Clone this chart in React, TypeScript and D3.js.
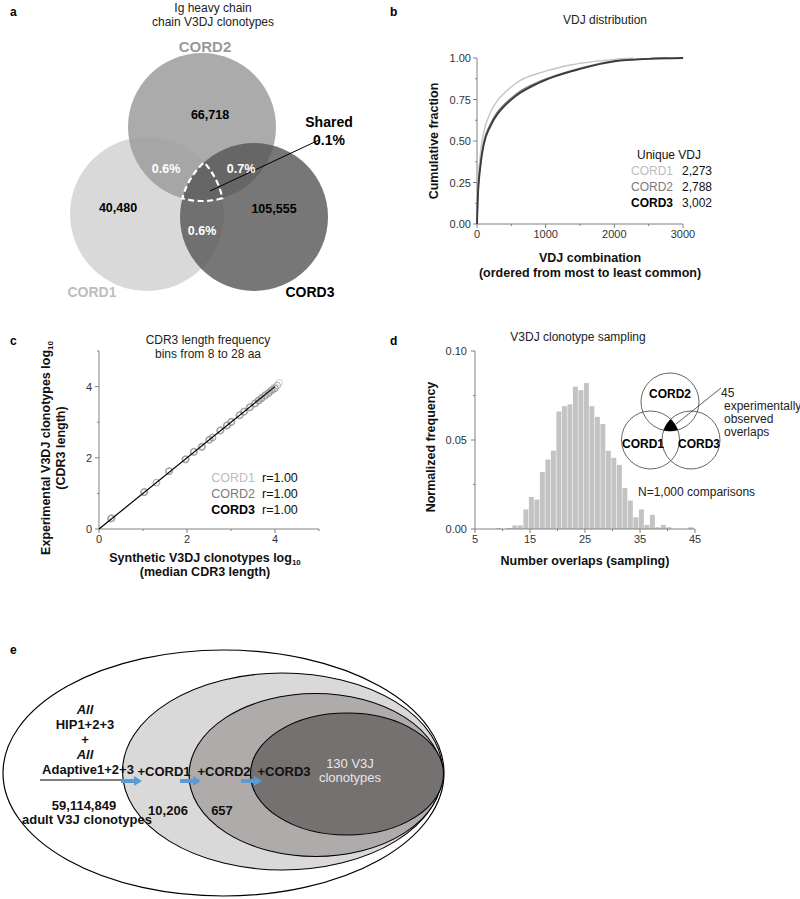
import React from 'react';
import * as d3 from 'd3';

const FONT = "Arial, 'Liberation Sans', Helvetica, sans-serif";

// ---------- Panel a data ----------
const vennNames = ['CORD1', 'CORD2', 'CORD3'];
const vennUnique = ['40,480', '66,718', '105,555'];
const vennPairLabels = ['0.6%', '0.7%', '0.6%']; // 1∩2, 2∩3, 1∩3
const vennShared = ['Shared', '0.1%'];

// ---------- Panel b data ----------
const cord1Cum: [number, number][] = [[0, 0], [10, 0.2], [49, 0.42], [97, 0.55], [194, 0.67], [291, 0.74], [388, 0.785], [510, 0.83], [631, 0.865], [874, 0.905], [1010, 0.922], [1359, 0.958], [1505, 0.968], [2005, 0.992], [2273, 1.0]];
const cord2Cum: [number, number][] = [[0, 0], [10, 0.15], [49, 0.36], [97, 0.49], [194, 0.6], [291, 0.67], [388, 0.717], [510, 0.762], [631, 0.8], [874, 0.852], [1010, 0.875], [1359, 0.922], [1505, 0.938], [2005, 0.983], [2500, 0.996], [2788, 1.0]];
const cord3Cum: [number, number][] = [[0, 0], [10, 0.14], [49, 0.345], [97, 0.475], [194, 0.588], [291, 0.658], [388, 0.705], [510, 0.752], [631, 0.79], [874, 0.845], [1010, 0.87], [1359, 0.918], [1505, 0.935], [2005, 0.98], [2500, 0.995], [3002, 1.0]];
const uniqueVDJ = ['2,273', '2,788', '3,002'];
const bXTicks = [0, 1000, 2000, 3000];
const bYTicks = [0, 0.25, 0.5, 0.75, 1.0];

// ---------- Panel c data ----------
const cord1Cdr3: [number, number][] = [[0.3, 0.31], [1.04, 1.05], [1.31, 1.31], [1.6, 1.63], [1.98, 1.97], [2.17, 2.18], [2.35, 2.33], [2.58, 2.57], [2.77, 2.78], [2.92, 2.93], [3.02, 3.03], [3.21, 3.21], [3.31, 3.31], [3.45, 3.44], [3.56, 3.55], [3.64, 3.63], [3.72, 3.71], [3.8, 3.79], [3.9, 3.88], [3.98, 3.97], [4.1, 4.11]];
const cord2Cdr3: [number, number][] = [[0.28, 0.3], [1.03, 1.04], [1.3, 1.3], [1.59, 1.62], [1.97, 1.96], [2.16, 2.17], [2.34, 2.31], [2.52, 2.52], [2.76, 2.77], [2.91, 2.91], [3.01, 3.01], [3.2, 3.2], [3.3, 3.3], [3.43, 3.42], [3.55, 3.53], [3.63, 3.61], [3.7, 3.68], [3.78, 3.76], [3.87, 3.84], [3.95, 3.92], [4.05, 4.03]];
const cord3Cdr3: [number, number][] = [[0.27, 0.29], [1.02, 1.03], [1.59, 1.62], [1.96, 1.95], [2.15, 2.16], [2.33, 2.3], [2.5, 2.5], [2.58, 2.57], [2.75, 2.76], [2.9, 2.9], [3.0, 3.0], [3.19, 3.19], [3.29, 3.29], [3.42, 3.41], [3.54, 3.52], [3.62, 3.6], [3.69, 3.67], [3.77, 3.74], [3.85, 3.81], [3.92, 3.89], [4.0, 3.95]];
const corrLabels = ['r=1.00', 'r=1.00', 'r=1.00'];
const cTicks = [0, 2, 4];

// ---------- Panel d data ----------
const overlapBins = [9, 10, 11, 12, 13, 14, 15, 16, 17, 18, 19, 20, 21, 22, 23, 24, 25, 26, 27, 28, 29, 30, 31, 32, 33, 34, 35, 36, 37, 38, 39, 40, 41, 42, 43, 44];
const overlapFreq = [0.0006, 0, 0.0006, 0.002, 0.002, 0.011, 0.018, 0.0165, 0.032, 0.039, 0.044, 0.066, 0.069, 0.070, 0.080, 0.078, 0.082, 0.069, 0.063, 0.059, 0.044, 0.040, 0.036, 0.023, 0.016, 0.0066, 0.011, 0.0023, 0.008, 0.001, 0.0023, 0.001, 0, 0, 0, 0.001];
const dXTicks = [5, 15, 25, 35, 45];
const dYTicks = [0, 0.05, 0.1];
const observedLabel = ['45', 'experimentally', 'observed', 'overlaps'];

// ---------- Panel e data ----------
const adultLines = ['All', 'HIP1+2+3', '+', 'All', 'Adaptive1+2+3'];
const adultCount = ['59,114,849', 'adult V3J clonotypes'];
const stepLabels = ['+CORD1', '+CORD2', '+CORD3'];
const stepCounts = ['10,206', '657'];
const finalLabel = ['130 V3J', 'clonotypes'];

type Circle = { x: number; y: number; r: number };

function intersections(a: Circle, b: Circle): [number, number][] {
  const dx = b.x - a.x, dy = b.y - a.y;
  const d = Math.hypot(dx, dy);
  const l = (a.r * a.r - b.r * b.r + d * d) / (2 * d);
  const h = Math.sqrt(Math.max(0, a.r * a.r - l * l));
  const ux = dx / d, uy = dy / d;
  const bx = a.x + l * ux, by = a.y + l * uy;
  return [[bx - h * uy, by + h * ux], [bx + h * uy, by - h * ux]];
}

function inside(p: [number, number], c: Circle) {
  return Math.hypot(p[0] - c.x, p[1] - c.y) <= c.r + 0.5;
}

function tripleRegion(cs: Circle[]): string {
  const pick = (i: number, j: number, k: number) => intersections(cs[i], cs[j]).find(p => inside(p, cs[k]))!;
  const p01 = pick(0, 1, 2), p12 = pick(1, 2, 0), p02 = pick(0, 2, 1);
  const pts: [number, number][] = [];
  const arc = (c: Circle, s: [number, number], e: [number, number]) => {
    const a0 = Math.atan2(s[1] - c.y, s[0] - c.x);
    const a1 = Math.atan2(e[1] - c.y, e[0] - c.x);
    let dlt = a1 - a0;
    while (dlt > Math.PI) dlt -= 2 * Math.PI;
    while (dlt < -Math.PI) dlt += 2 * Math.PI;
    for (let t = 0; t <= 24; t++) {
      const a = a0 + (dlt * t) / 24;
      pts.push([c.x + c.r * Math.cos(a), c.y + c.r * Math.sin(a)]);
    }
  };
  arc(cs[1], p01, p12);
  arc(cs[2], p12, p02);
  arc(cs[0], p02, p01);
  return (d3.line()(pts) || '') + 'Z';
}

const AX = '#808080';

export default function App() {
  // ---- panel a geometry
  const aC: Circle[] = [{ x: 147, y: 214, r: 77 }, { x: 202, y: 127, r: 74 }, { x: 254, y: 217, r: 74 }];
  const aRegion = tripleRegion(aC);

  // ---- panel b
  const bX = d3.scaleLinear().domain([0, 3000]).range([477, 683]);
  const bY = d3.scaleLinear().domain([0, 1]).range([224, 58]);
  const bLine = d3.line<[number, number]>().x(d => bX(d[0])).y(d => bY(d[1])).curve(d3.curveMonotoneX);

  // ---- panel c
  const cX = d3.scaleLinear().domain([0, 5]).range([99, 319]);
  const cY = d3.scaleLinear().domain([0, 5]).range([529, 351]);

  // ---- panel d
  const dX = d3.scaleLinear().domain([5, 45]).range([475, 695]);
  const dY = d3.scaleLinear().domain([0, 0.1]).range([529, 351]);
  const dC: Circle[] = [{ x: 650.5, y: 440, r: 29 }, { x: 670, y: 402, r: 29 }, { x: 691, y: 440, r: 29 }];
  const dRegion = tripleRegion(dC);

  const arrow = (x0: number, x1: number, y: number, key: string) => (
    <g key={key} fill="#5b9bd5">
      <rect x={x0} y={y - 2} width={x1 - x0 - 7} height={4} />
      <path d={`M${x1 - 8},${y - 5}L${x1},${y}L${x1 - 8},${y + 5}Z`} />
    </g>
  );

  return (
    <svg width={800} height={899} style={{ position: 'absolute', left: 0, top: 0, background: '#fff' }} fontFamily={FONT}>
      <rect width={800} height={899} fill="#fff" />
      {/* panel letters */}
      <g fontWeight="bold" fontSize={12} fill="#000">
        <text x={10} y={16}>a</text>
        <text x={390} y={16}>b</text>
        <text x={10} y={345}>c</text>
        <text x={390} y={345}>d</text>
        <text x={10} y={654}>e</text>
      </g>

      {/* ================= Panel a ================= */}
      <g>
        <text x={213} y={12} textAnchor="middle" fontSize={12} fill="#222">Ig heavy chain</text>
        <text x={213} y={26} textAnchor="middle" fontSize={12} fill="#222">chain V3DJ clonotypes</text>
        <circle cx={aC[0].x} cy={aC[0].y} r={aC[0].r} fill="#d9d9d9" />
        <circle cx={aC[1].x} cy={aC[1].y} r={aC[1].r} fill="#9c9c9c" fillOpacity={0.85} />
        <circle cx={aC[2].x} cy={aC[2].y} r={aC[2].r} fill="#555555" fillOpacity={0.8} />
        <path d={aRegion} fill="none" stroke="#fff" strokeWidth={2.2} strokeDasharray="6,3.5" />
        <line x1={210} y1={191} x2={319} y2={140} stroke="#000" strokeWidth={1} />
        <g fontWeight="bold" fontSize={12.5} textAnchor="middle">
          <text x={118} y={212} fill="#000">{vennUnique[0]}</text>
          <text x={210} y={119} fill="#000">{vennUnique[1]}</text>
          <text x={274} y={213} fill="#000">{vennUnique[2]}</text>
          <text x={166} y={173} fill="#fff">{vennPairLabels[0]}</text>
          <text x={241} y={173} fill="#fff">{vennPairLabels[1]}</text>
          <text x={202} y={235} fill="#fff">{vennPairLabels[2]}</text>
        </g>
        <g fontWeight="bold" fontSize={14} textAnchor="middle" fill="#000">
          <text x={329} y={127}>{vennShared[0]}</text>
          <text x={329} y={145}>{vennShared[1]}</text>
        </g>
        <g fontWeight="bold" textAnchor="middle">
          <text x={92} y={297} fontSize={14} fill="#bdbdbd">{vennNames[0]}</text>
          <text x={205} y={52} fontSize={15} fill="#9a9a9a">{vennNames[1]}</text>
          <text x={310} y={297} fontSize={14} fill="#000">{vennNames[2]}</text>
        </g>
      </g>

      {/* ================= Panel b ================= */}
      <g>
        <text x={605} y={24} textAnchor="middle" fontSize={12} fill="#222">VDJ  distribution</text>
        <line x1={477} y1={bY(1)} x2={477} y2={bY(0)} stroke={AX} />
        <line x1={477} y1={224} x2={bX(3000)} y2={224} stroke={AX} />
        {d3.range(0, 1.0001, 0.125).map(v => (
          <line key={'by' + v} x1={477} x2={477 - (Math.round(v * 8) % 2 === 0 ? 4 : 2)} y1={bY(v)} y2={bY(v)} stroke={AX} />
        ))}
        {d3.range(0, 3001, 500).map(v => (
          <line key={'bx' + v} x1={bX(v)} x2={bX(v)} y1={224} y2={224 + (v % 1000 === 0 ? 4 : 2)} stroke={AX} />
        ))}
        {bYTicks.map(v => (
          <text key={'byl' + v} x={471} y={bY(v) + 4} textAnchor="end" fontSize={11} fill="#333">{v.toFixed(2)}</text>
        ))}
        {bXTicks.map(v => (
          <text key={'bxl' + v} x={bX(v)} y={238} textAnchor="middle" fontSize={11} fill="#333">{v}</text>
        ))}
        <path d={bLine(cord1Cum) || ''} fill="none" stroke="#c4c4c4" strokeWidth={1.4} />
        <path d={bLine(cord2Cum) || ''} fill="none" stroke="#7a7a7a" strokeWidth={1.5} />
        <path d={bLine(cord3Cum) || ''} fill="none" stroke="#3a3a3a" strokeWidth={1.8} />
        <text x={438} y={141} transform="rotate(-90,438,141)" textAnchor="middle" fontSize={12.5} fontWeight="bold" fill="#111">Cumulative fraction</text>
        <text x={590} y={262} textAnchor="middle" fontSize={12.5} fontWeight="bold" fill="#111">VDJ combination</text>
        <text x={590} y={277} textAnchor="middle" fontSize={12.5} fontWeight="bold" fill="#111">(ordered from most to least common)</text>
        <text x={637} y={159} fontSize={12} fill="#111">Unique VDJ</text>
        {vennNames.map((n, i) => (
          <g key={'bl' + n}>
            <text x={673} y={175 + i * 16} textAnchor="end" fontSize={12} fontWeight={i === 2 ? 'bold' : 'normal'} fill={['#bdbdbd', '#7a7a7a', '#000'][i]}>{n}</text>
            <text x={682} y={175 + i * 16} fontSize={12} fill="#111">{uniqueVDJ[i]}</text>
          </g>
        ))}
      </g>

      {/* ================= Panel c ================= */}
      <g>
        <text x={208} y={344} textAnchor="middle" fontSize={12} fill="#222">CDR3 length frequency</text>
        <text x={208} y={358} textAnchor="middle" fontSize={12} fill="#222">bins from 8 to 28 aa</text>
        <line x1={cX(0)} y1={cY(5)} x2={cX(0)} y2={cY(0)} stroke={AX} />
        <line x1={cX(0)} y1={cY(0)} x2={cX(5)} y2={cY(0)} stroke={AX} />
        {d3.range(0, 6).map(v => (
          <g key={'ct' + v}>
            <line x1={cX(0)} x2={cX(0) - (v % 2 === 0 ? 4 : 2)} y1={cY(v)} y2={cY(v)} stroke={AX} />
            <line x1={cX(v)} x2={cX(v)} y1={cY(0)} y2={cY(0) + (v % 2 === 0 ? 4 : 2)} stroke={AX} />
          </g>
        ))}
        {cTicks.map(v => (
          <g key={'ctl' + v}>
            <text x={92} y={cY(v) + 4} textAnchor="end" fontSize={11} fill="#333">{v}</text>
            <text x={cX(v)} y={543} textAnchor="middle" fontSize={11} fill="#333">{v}</text>
          </g>
        ))}
        {[cord1Cdr3, cord2Cdr3, cord3Cdr3].map((s, si) => s.map((p, i) => (
          <circle key={'cp' + si + '-' + i} cx={cX(p[0])} cy={cY(p[1])} r={3.3} fill="none" stroke={['#d0d0d0', '#ababab', '#999999'][si]} strokeWidth={1} />
        )))}
        <line x1={cX(0)} y1={cY(0)} x2={cX(4)} y2={cY(4)} stroke="#000" strokeWidth={1.2} />
        {vennNames.map((n, i) => (
          <g key={'cl' + n}>
            <text x={255} y={482 + i * 16} textAnchor="end" fontSize={12.5} fontWeight={i === 2 ? 'bold' : 'normal'} fill={['#bdbdbd', '#7a7a7a', '#000'][i]}>{n}</text>
            <text x={262} y={482 + i * 16} fontSize={12.5} fill="#111">{corrLabels[i]}</text>
          </g>
        ))}
        <text x={50} y={448} transform="rotate(-90,50,448)" textAnchor="middle" fontSize={12.5} fontWeight="bold" fill="#111">
          Experimental V3DJ clonotypes log<tspan fontSize={8} dy={3}>10</tspan>
        </text>
        <text x={65} y={448} transform="rotate(-90,65,448)" textAnchor="middle" fontSize={12.5} fontWeight="bold" fill="#111">(CDR3 length)</text>
        <text x={205} y={562} textAnchor="middle" fontSize={12.5} fontWeight="bold" fill="#111">
          Synthetic V3DJ clonotypes log<tspan fontSize={8} dy={3}>10</tspan>
        </text>
        <text x={205} y={576} textAnchor="middle" fontSize={12.5} fontWeight="bold" fill="#111">(median CDR3 length)</text>
      </g>

      {/* ================= Panel d ================= */}
      <g>
        <text x={578} y={341} textAnchor="middle" fontSize={12} fill="#222">V3DJ  clonotype sampling</text>
        {overlapBins.map((b, i) => overlapFreq[i] > 0 ? (
          <rect key={'bar' + b} x={dX(b - 0.2)} y={dY(overlapFreq[i])} width={dX(b + 0.7) - dX(b - 0.2)} height={dY(0) - dY(overlapFreq[i])} fill="#c3c3c3" />
        ) : null)}
        <line x1={dX(5)} y1={dY(0.1)} x2={dX(5)} y2={dY(0)} stroke={AX} />
        <line x1={dX(5)} y1={dY(0)} x2={dX(45)} y2={dY(0)} stroke={AX} />
        {d3.range(0, 0.1001, 0.025).map((v, i) => (
          <line key={'dy' + i} x1={dX(5)} x2={dX(5) - (i % 2 === 0 ? 4 : 2)} y1={dY(v)} y2={dY(v)} stroke={AX} />
        ))}
        {d3.range(5, 46, 5).map((v, i) => (
          <line key={'dx' + v} x1={dX(v)} x2={dX(v)} y1={dY(0)} y2={dY(0) + (i % 2 === 0 ? 4 : 2)} stroke={AX} />
        ))}
        {dYTicks.map(v => (
          <text key={'dyl' + v} x={467} y={dY(v) + 4} textAnchor="end" fontSize={11} fill="#333">{v.toFixed(2)}</text>
        ))}
        {dXTicks.map(v => (
          <text key={'dxl' + v} x={dX(v)} y={543} textAnchor="middle" fontSize={11} fill="#333">{v}</text>
        ))}
        <text x={435} y={447} transform="rotate(-90,435,447)" textAnchor="middle" fontSize={12.5} fontWeight="bold" fill="#111">Normalized frequency</text>
        <text x={585} y={565} textAnchor="middle" fontSize={12.5} fontWeight="bold" fill="#111">Number overlaps (sampling)</text>
        {dC.map((c, i) => (
          <circle key={'dc' + i} cx={c.x} cy={c.y} r={c.r} fill="none" stroke="#555" strokeWidth={0.9} />
        ))}
        <path d={dRegion} fill="#000" />
        <line x1={676} y1={424} x2={721} y2={388} stroke="#333" strokeWidth={0.8} />
        <g fontWeight="bold" fontSize={12} fill="#000" textAnchor="middle">
          <text x={643} y={448}>{vennNames[0]}</text>
          <text x={670} y={398}>{vennNames[1]}</text>
          <text x={699} y={448}>{vennNames[2]}</text>
        </g>
        <g fontSize={12} fill="#222">
          {observedLabel.map((t, i) => (
            <text key={'ob' + i} x={i === 0 ? 721 : 724} y={397 + i * 13}>{t}</text>
          ))}
          <text x={638} y={496}>N=1,000 comparisons</text>
        </g>
      </g>

      {/* ================= Panel e ================= */}
      <g>
        <ellipse cx={223.5} cy={773} rx={220.5} ry={123} fill="#fff" stroke="#000" strokeWidth={1.2} />
        <ellipse cx={282.5} cy={771.5} rx={160} ry={98.5} fill="#d9d9d9" stroke="#000" strokeWidth={1.1} />
        <ellipse cx={315.5} cy={775} rx={126.5} ry={81.5} fill="#afabab" stroke="#000" strokeWidth={1.1} />
        <ellipse cx={347} cy={774} rx={96.5} ry={61} fill="#767171" stroke="#000" strokeWidth={1.1} />
        <g fontWeight="bold" fontSize={13} fill="#111" textAnchor="middle">
          {adultLines.map((t, i) => (
            <text key={'al' + i} x={i === 4 ? 88 : 85} y={714 + i * 15} fontStyle={t === 'All' ? 'italic' : 'normal'}>{t}</text>
          ))}
          <text x={84} y={810}>{adultCount[0]}</text>
          <text x={87} y={824}>{adultCount[1]}</text>
          <text x={164} y={776}>{stepLabels[0]}</text>
          <text x={224} y={776}>{stepLabels[1]}</text>
          <text x={284} y={776}>{stepLabels[2]}</text>
          <text x={168} y={815}>{stepCounts[0]}</text>
          <text x={222} y={815}>{stepCounts[1]}</text>
        </g>
        <g fontSize={13} fill="#e6e6e6" textAnchor="middle">
          <text x={350} y={768}>{finalLabel[0]}</text>
          <text x={350} y={782}>{finalLabel[1]}</text>
        </g>
        <line x1={40} y1={780} x2={123} y2={780} stroke="#000" strokeWidth={1} />
        {arrow(121, 142, 781, 'a1')}
        {arrow(180, 201, 781, 'a2')}
        {arrow(241, 262, 781, 'a3')}
      </g>
    </svg>
  );
}
